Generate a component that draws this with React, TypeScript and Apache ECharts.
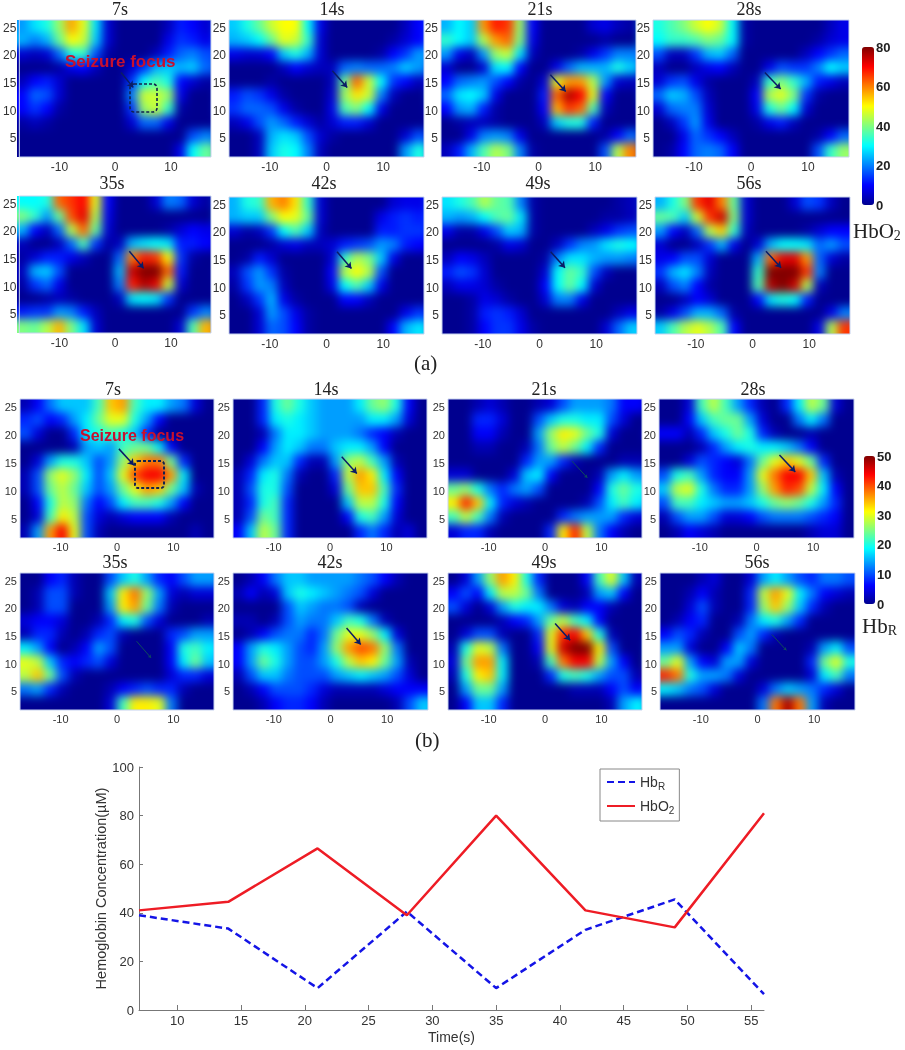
import React, { useEffect, useRef } from "react";
import * as echarts from "echarts";

const times = [7, 14, 21, 28, 35, 42, 49, 56];
const hbrLine = [39, 33.5, 9, 40.5, 9, 33, 45.5, 6.5];
const hbo2Line = [41, 44.5, 66.5, 39, 80, 41, 34, 81];
const panelTitles = ["7s", "14s", "21s", "28s", "35s", "42s", "49s", "56s"];
const xTickValues = [-10, 0, 10];
const yTickValues = [5, 10, 15, 20, 25];
const lineXTicks = [10, 15, 20, 25, 30, 35, 40, 45, 50, 55];

const o7 = [
  [22,28,32,42,57,48,28,6,0,0,0,0,4,12,10,6],
  [24,20,24,38,50,46,26,6,0,0,0,0,8,14,12,8],
  [6,4,6,18,32,34,16,2,0,0,0,4,12,18,20,16],
  [0,0,0,2,8,10,4,0,0,6,14,24,26,24,26,18],
  [4,10,12,6,0,0,0,0,0,14,30,36,32,10,6,2],
  [10,18,16,6,0,0,0,0,0,20,46,46,42,8,0,0],
  [10,14,10,2,0,0,0,0,0,14,42,46,34,2,0,0],
  [2,4,2,0,0,0,0,0,0,6,18,18,8,0,0,0],
  [0,0,0,0,0,0,0,0,0,0,0,0,0,0,16,20],
  [0,0,0,0,0,0,0,0,0,0,0,0,0,8,30,38],
];
const o14 = [
  [26,32,38,46,50,50,30,8,0,0,0,0,0,0,4,10],
  [24,26,30,38,48,46,34,6,0,0,0,0,0,2,6,10],
  [8,6,6,10,26,32,24,6,0,0,0,0,2,10,14,22],
  [0,0,0,0,4,10,6,4,4,18,20,18,18,20,26,22],
  [0,0,0,2,0,0,0,0,4,38,62,46,30,14,10,4],
  [12,16,14,8,2,0,0,0,6,42,52,46,20,4,0,0],
  [14,18,18,16,8,2,0,0,8,36,40,30,8,0,0,0],
  [4,8,16,22,18,12,6,2,6,12,12,6,0,0,0,0],
  [0,0,4,24,28,26,16,6,2,0,0,0,0,0,6,16],
  [0,0,4,26,32,30,20,4,0,0,0,0,0,0,22,32],
];
const o21 = [
  [24,30,26,58,68,66,42,10,0,0,0,0,6,8,4,2],
  [34,30,26,44,58,62,40,8,0,0,0,0,0,2,0,0],
  [22,8,4,22,42,46,28,4,0,0,0,2,8,14,20,20],
  [6,0,0,6,28,30,10,0,0,8,18,24,24,24,32,26],
  [10,18,20,22,16,10,2,0,6,48,58,58,44,22,6,4],
  [18,28,30,26,8,0,0,0,12,62,76,70,48,10,0,0],
  [10,22,24,12,2,0,0,0,10,56,66,62,36,4,0,0],
  [0,2,4,4,2,0,0,0,4,26,32,32,12,0,0,0],
  [0,0,8,20,22,20,8,0,0,0,0,0,0,2,10,18],
  [4,12,24,36,44,40,20,2,0,0,0,0,0,16,44,60],
];
const o28 = [
  [32,36,40,46,50,46,30,2,0,0,0,0,0,0,4,8],
  [30,34,34,36,40,38,30,2,0,0,0,0,0,2,6,8],
  [16,4,4,14,24,26,18,0,0,0,0,0,4,10,14,18],
  [4,0,0,4,8,10,4,0,0,8,16,14,14,20,30,26],
  [6,14,16,8,2,0,0,0,4,34,40,34,24,12,8,4],
  [18,26,24,16,4,0,0,0,10,44,48,40,14,2,0,0],
  [6,18,20,20,6,0,0,0,8,32,38,30,6,0,0,0],
  [0,4,14,22,8,0,0,0,2,8,12,4,0,0,0,0],
  [0,0,8,18,14,10,4,0,0,0,0,0,0,2,10,18],
  [0,2,10,18,20,18,10,0,0,0,0,0,0,16,34,42],
];
const o35 = [
  [30,30,32,62,66,70,48,10,0,0,0,6,20,18,6,2],
  [40,34,22,38,64,72,44,8,0,0,0,0,0,0,0,0],
  [24,10,4,18,44,62,38,6,0,0,0,0,2,6,10,8],
  [4,0,0,4,18,36,14,2,4,24,28,30,28,12,12,10],
  [2,6,12,12,8,4,0,0,18,60,68,66,50,14,2,0],
  [4,24,26,16,0,0,0,0,24,74,84,84,62,12,0,0],
  [2,14,18,8,0,0,0,0,20,68,76,72,46,6,0,0],
  [0,0,2,4,2,0,0,0,4,28,30,28,14,0,0,0],
  [12,14,14,22,20,12,4,0,0,0,0,0,0,0,14,20],
  [40,38,44,56,40,28,6,0,0,0,0,0,0,6,36,56],
];
const o42 = [
  [24,32,34,56,60,52,34,6,0,0,0,0,0,6,8,8],
  [24,26,26,40,50,48,38,6,0,0,0,0,8,12,14,12],
  [6,2,4,14,30,36,26,4,0,0,0,0,12,12,14,14],
  [0,0,0,2,6,8,4,4,6,12,14,16,22,20,12,10],
  [0,2,12,6,0,0,0,0,6,34,44,40,26,8,0,0],
  [4,16,22,14,2,0,0,0,10,44,50,44,16,0,0,0],
  [2,14,22,20,4,0,0,0,8,30,36,26,8,0,0,0],
  [0,4,14,24,8,2,0,0,0,10,10,4,0,0,0,0],
  [0,0,6,22,16,8,2,0,0,0,0,0,0,0,8,14],
  [0,0,6,18,16,10,2,0,0,0,0,0,0,10,24,28],
];
const o49 = [
  [28,32,36,44,38,36,20,2,0,0,0,0,0,0,2,4],
  [24,22,24,30,36,38,28,2,0,0,0,0,0,2,2,4],
  [8,2,2,8,16,26,24,2,0,0,0,0,4,8,14,16],
  [0,0,0,0,2,8,6,0,0,4,14,20,22,28,32,30],
  [4,10,8,4,0,0,0,0,2,20,28,28,24,22,22,20],
  [12,16,14,6,0,0,0,0,6,30,38,34,16,4,0,0],
  [4,8,8,6,2,0,0,0,10,30,38,30,6,0,0,0],
  [0,0,2,8,6,2,0,0,6,20,20,8,0,0,0,0],
  [0,0,2,12,14,12,6,0,0,0,0,0,0,0,4,8],
  [0,0,2,10,14,14,8,2,0,0,0,0,0,6,18,26],
];
const o56 = [
  [24,32,40,66,72,60,38,6,0,0,0,6,16,14,4,0],
  [38,36,26,46,66,74,40,6,0,0,0,0,0,0,0,0],
  [22,10,4,18,44,54,34,4,0,0,0,0,2,6,10,10],
  [6,0,0,4,14,24,8,0,6,24,30,30,28,18,22,16],
  [8,10,16,16,6,0,0,0,24,62,72,72,58,18,6,2],
  [14,24,28,20,4,0,0,0,34,80,86,84,66,20,0,0],
  [4,16,20,10,2,0,0,0,36,76,82,74,44,4,0,0],
  [0,0,4,10,6,0,0,0,10,28,32,30,12,0,0,0],
  [2,8,16,24,24,18,2,0,0,0,0,0,0,0,8,20],
  [26,36,44,48,44,36,10,0,0,0,0,0,0,8,44,66],
];
const r7 = [
  [2,6,12,16,16,16,22,34,36,22,18,18,14,12,4,0],
  [8,10,6,8,14,18,24,30,30,20,14,6,0,0,0,0],
  [10,4,0,0,8,18,20,22,20,16,8,0,0,0,0,0],
  [0,0,0,0,2,14,16,14,22,24,24,18,6,0,0,0],
  [0,4,14,20,20,16,10,14,26,34,38,38,24,8,0,0],
  [2,10,26,30,26,18,10,16,30,40,44,44,36,18,0,0],
  [2,10,24,28,24,16,10,14,24,30,36,34,24,16,2,0],
  [0,6,20,28,26,12,6,10,18,22,22,20,14,6,0,0],
  [0,4,22,32,28,10,4,2,4,6,6,6,2,0,0,0],
  [2,14,36,44,30,10,2,0,0,0,0,0,0,0,2,0],
];
const r14 = [
  [0,0,8,20,24,20,16,14,14,14,18,24,26,20,6,0],
  [0,0,8,18,20,18,16,14,14,14,14,18,18,14,4,0],
  [0,0,2,12,18,18,16,14,14,14,12,8,6,2,0,0],
  [0,0,6,14,18,16,12,12,16,18,18,14,6,0,0,0],
  [0,4,12,16,16,8,2,2,14,26,28,22,14,2,0,0],
  [2,8,18,20,12,2,0,0,8,28,36,32,18,6,0,0],
  [2,10,20,20,10,0,0,0,4,24,34,34,22,8,0,0],
  [2,8,20,22,8,0,0,0,0,16,28,28,20,6,0,0],
  [2,10,24,22,8,0,0,0,0,6,20,22,14,4,0,0],
  [6,16,28,24,8,0,0,0,0,0,8,12,8,2,4,0],
];
const r21 = [
  [0,0,2,4,2,0,0,2,4,10,14,14,14,12,6,6],
  [0,0,8,8,4,0,0,10,16,20,20,18,18,10,4,0],
  [0,0,6,6,2,0,0,14,26,32,30,24,20,4,0,0],
  [0,0,2,2,0,0,2,12,24,28,24,18,8,0,0,0],
  [0,0,0,0,0,0,8,14,14,8,2,0,0,0,2,2],
  [4,4,0,0,0,4,16,18,6,0,0,0,2,14,18,14],
  [24,26,20,12,8,12,14,10,0,0,0,0,6,20,24,20],
  [32,42,34,18,8,4,2,0,0,0,0,2,10,18,22,18],
  [22,28,22,12,2,0,0,0,0,8,12,14,14,14,8,4],
  [4,8,8,2,0,0,0,0,8,32,42,28,12,6,2,0],
];
const r28 = [
  [0,0,4,22,28,22,14,8,2,0,8,18,28,24,4,0],
  [0,0,6,16,22,24,24,14,4,0,0,12,18,12,0,0],
  [6,6,2,8,16,20,24,20,8,2,0,0,2,0,0,0],
  [0,0,0,2,8,14,18,20,18,18,16,12,6,0,0,0],
  [0,0,4,10,8,6,4,12,24,30,34,30,24,8,0,0],
  [10,20,22,14,8,6,6,14,30,38,44,44,34,16,2,0],
  [16,28,30,20,12,8,8,14,26,36,42,40,28,18,6,0],
  [10,22,22,18,16,14,14,16,20,24,26,24,20,14,8,0],
  [2,10,14,14,10,4,4,6,10,12,12,12,10,8,6,0],
  [0,2,6,4,2,0,0,0,0,0,0,0,2,4,4,0],
];
const r35 = [
  [0,0,6,8,2,0,0,10,16,20,14,8,6,10,14,14],
  [0,2,10,10,2,0,0,16,32,38,26,14,4,2,4,4],
  [0,2,10,10,0,0,0,14,32,36,24,12,2,0,0,0],
  [4,6,6,4,0,0,2,8,18,20,10,4,0,0,0,2],
  [2,8,8,2,0,2,8,10,2,0,0,0,8,10,14,14],
  [18,14,6,0,2,6,14,10,0,0,0,0,6,20,22,18],
  [30,28,16,8,6,8,10,4,0,0,0,0,6,18,24,16],
  [28,34,24,10,2,0,0,0,0,0,0,0,4,8,8,4],
  [12,14,8,2,0,0,0,2,6,8,10,8,8,2,0,0],
  [0,0,0,0,0,0,0,4,22,32,32,30,12,0,0,0],
];
const r42 = [
  [0,2,6,12,16,16,14,14,14,14,12,10,6,2,0,0],
  [2,6,2,4,16,20,18,16,14,12,10,4,0,0,0,0],
  [0,0,0,0,10,16,14,12,12,10,2,0,0,0,0,0],
  [2,2,0,2,10,14,12,12,16,22,20,12,2,0,0,0],
  [0,2,6,10,12,12,8,12,24,30,30,26,18,4,0,0],
  [6,14,20,18,14,10,8,14,26,36,40,38,26,12,0,0],
  [6,14,24,20,14,10,10,14,20,28,34,32,24,14,2,0],
  [2,10,16,16,12,10,10,10,14,16,18,16,14,10,4,0],
  [0,2,6,10,10,10,8,4,2,2,2,2,4,6,6,6],
  [0,0,2,6,8,8,6,2,0,0,0,0,0,2,10,16],
];
const r49 = [
  [0,4,14,26,36,32,20,8,0,0,0,6,22,30,16,2],
  [6,10,6,18,28,28,24,12,0,0,0,2,14,16,6,0],
  [10,4,0,4,14,20,18,18,12,4,2,6,6,2,0,0],
  [0,0,0,0,2,6,8,14,24,28,22,18,6,0,0,0],
  [0,4,10,10,2,0,0,8,30,42,44,34,20,2,0,0],
  [2,20,30,28,12,0,0,6,30,46,52,50,32,10,0,0],
  [4,24,36,36,18,0,0,2,22,38,44,44,28,14,6,0],
  [2,20,32,34,18,0,0,0,8,20,22,20,14,10,10,2],
  [0,14,24,24,14,0,0,0,0,0,2,2,2,6,10,6],
  [0,6,16,16,8,0,0,0,0,0,0,0,0,2,14,18],
];
const r56 = [
  [0,0,0,2,4,0,0,4,14,18,14,10,8,12,12,10],
  [0,0,2,6,2,0,0,8,28,36,30,18,12,6,4,2],
  [0,0,4,10,2,0,0,8,26,34,26,16,8,2,0,0],
  [0,2,6,8,0,0,2,12,18,20,14,8,0,0,0,0],
  [6,10,8,2,0,0,10,14,8,2,0,0,0,0,0,0],
  [14,14,4,0,0,6,16,12,0,0,0,0,2,14,18,10],
  [24,30,14,6,4,14,14,4,0,0,0,0,8,24,30,20],
  [42,38,20,14,14,12,4,0,0,0,0,0,4,18,22,12],
  [18,16,12,10,4,0,0,0,4,12,16,14,12,8,4,0],
  [0,0,0,0,0,0,0,0,12,38,48,38,14,2,0,0],
];

const heatGrids = [o7, o14, o21, o28, o35, o42, o49, o56, r7, r14, r21, r28, r35, r42, r49, r56];

// arrow start and end, in axis units, per panel
const arrows = [
  [1.04, 16.9, 3.24, 14.2], [1.03, 17.2, 3.65, 14.2], [2.08, 16.5, 4.8, 13.45], [2.43, 16.9, 5.2, 13.9],
  [2.54, 16.4, 5.1, 13.3], [1.85, 16.5, 4.4, 13.45], [1.96, 16.5, 4.5, 13.6], [2.37, 16.6, 5.04, 13.6],
  [0.34, 17.5, 3.0, 14.6], [2.08, 16.1, 4.75, 13.1], [4.8, 15.3, 7.5, 12.35], [4.05, 16.4, 6.84, 13.4],
  [3.47, 14.05, 6.03, 11.04], [2.83, 16.46, 5.33, 13.45], [1.79, 17.24, 4.46, 14.23], [2.54, 15.26, 5.1, 12.4],
];
const faintArrows = [10, 12, 15];

const panels = [
  [17, 20, 194, 137], [229, 20, 195, 137], [441, 20, 195, 137], [653, 20, 196, 137],
  [17, 196, 194, 137], [229, 197, 195, 137], [442, 197, 195, 137], [655, 197, 195, 137],
  [20, 399, 194, 139], [233, 399, 194, 139], [448, 399, 194, 139], [659, 399, 195, 139],
  [20, 573, 194, 137], [233, 573, 195, 137], [448, 573, 194, 137], [660, 573, 195, 137],
];
const titlePos = [
  [120, 10], [332, 10], [540, 10], [749, 10], [112, 184], [324, 184], [538, 184], [749, 184],
  [113, 390], [326, 390], [544, 390], [753, 390], [115, 563], [330, 563], [544, 563], [757, 563],
];

const JET = ["#00008f", "#0000ff", "#0080ff", "#00ffff", "#80ff80", "#ffff00", "#ff8000", "#ff0000", "#800000"];
const SERIF = "'Liberation Serif', serif";
const SANS = "'Liberation Sans', sans-serif";
const NC = 16;
const NR = 10;
const COLS = Array.from({ length: NC + 2 }, (_, i) => i);
const ROWS = Array.from({ length: NR + 2 }, (_, i) => i);
const clampIdx = (i: number, n: number) => Math.max(0, Math.min(n - 1, i));
// the blurred layer reaches past the page, so that its own edge never fades over a panel
const BLEED = 40;

function heatOption() {
  return {
    animation: false,
    backgroundColor: "#00008f",
    // each grid reaches one cell past its frame, so that the blur does not dim the frame's edge;
    // the page clips the layer back to the frames
    grid: panels.map(([l, t, w, h]) => {
      const cw = w / NC;
      const ch = h / NR;
      return { left: BLEED + l - cw, top: BLEED + t - ch, width: w + 2 * cw, height: h + 2 * ch, containLabel: false };
    }),
    xAxis: panels.map((_, i) => ({ type: "category", gridIndex: i, data: COLS, show: false })),
    yAxis: panels.map((_, i) => ({ type: "category", gridIndex: i, data: ROWS, show: false, inverse: true })),
    visualMap: [
      { show: false, min: 0, max: 80, seriesIndex: [0, 1, 2, 3, 4, 5, 6, 7], inRange: { color: JET } },
      { show: false, min: 0, max: 50, seriesIndex: [8, 9, 10, 11, 12, 13, 14, 15], inRange: { color: JET } },
    ],
    series: heatGrids.map((rows, i) => ({
      type: "heatmap",
      xAxisIndex: i,
      yAxisIndex: i,
      progressive: 0,
      data: ROWS.flatMap((j) => COLS.map((c) => [c, j, rows[clampIdx(j - 1, NR)][clampIdx(c - 1, NC)]])),
    })),
  };
}

function overlayOption() {
  const n = panels.length;
  const sub = { fontFamily: SERIF, fontSize: 14, padding: [8, 0, 0, 0], fill: "#222" };
  const big = { fontFamily: SERIF, fontSize: 21, fill: "#222" };
  const grids: any[] = panels.map(([l, t, w, h]) => ({
    show: true, left: l, top: t, width: w, height: h, borderColor: "#c6d2ee", borderWidth: 1, backgroundColor: "transparent",
  }));
  const xAxes: any[] = panels.map((_, i) => ({
    type: "value", gridIndex: i, min: -17.2, max: 17.2, splitLine: { show: false },
    axisLine: { show: false }, axisTick: { show: false },
    axisLabel: { customValues: xTickValues, color: "#333", fontFamily: SANS, fontSize: i < 8 ? 12 : 11, margin: i < 8 ? 4 : 3 },
  }));
  const yAxes: any[] = panels.map((_, i) => ({
    type: "value", gridIndex: i, min: 1.6, max: 26.4, splitLine: { show: false },
    axisLine: { show: false }, axisTick: { show: false },
    axisLabel: { customValues: yTickValues, color: "#333", fontFamily: SANS, fontSize: i < 8 ? 12 : 11, margin: 3 },
  }));
  // colour bar labels
  grids.push({ left: 862, top: 47, width: 12, height: 158 }, { left: 864, top: 456, width: 11, height: 148 });
  [[80, 20], [50, 10]].forEach(([mx, step], k) => {
    xAxes.push({ type: "value", gridIndex: n + k, show: false, min: 0, max: 1 });
    yAxes.push({
      type: "value", gridIndex: n + k, position: "right", min: 0, max: mx, interval: step, splitLine: { show: false },
      axisLine: { show: false }, axisTick: { show: false },
      axisLabel: { color: "#222", fontFamily: SANS, fontSize: 13, fontWeight: "bold", margin: 2 },
    });
  });
  // line chart
  const L = n + 2;
  grids.push({ left: 139, top: 767, width: 625, height: 243 });
  xAxes.push({
    type: "value", gridIndex: L, min: 7, max: 56, splitLine: { show: false },
    name: "Time(s)", nameLocation: "middle", nameGap: 20,
    nameTextStyle: { color: "#333", fontFamily: SANS, fontSize: 14 },
    axisLine: { lineStyle: { color: "#777" } },
    axisTick: { customValues: lineXTicks, inside: true, length: 5, lineStyle: { color: "#777" } },
    axisLabel: { customValues: lineXTicks, color: "#333", fontFamily: SANS, fontSize: 13, margin: 4 },
  });
  yAxes.push({
    type: "value", gridIndex: L, min: 0, max: 100, interval: 20, splitLine: { show: false },
    name: "Hemoglobin Concentration(µM)", nameLocation: "middle", nameGap: 31, nameRotate: 90, nameMoveOverlap: false,
    nameTextStyle: { color: "#333", fontFamily: SANS, fontSize: 14.5 },
    axisLine: { show: true, lineStyle: { color: "#777" } },
    axisTick: { show: true, inside: true, length: 4, lineStyle: { color: "#777" } },
    axisLabel: { color: "#333", fontFamily: SANS, fontSize: 13, margin: 5 },
  });

  const arrowSeries = arrows.map(([x1, y1, x2, y2], i) => {
    const faint = faintArrows.includes(i);
    return {
      type: "line", xAxisIndex: i, yAxisIndex: i, data: [], silent: true,
      markLine: {
        silent: true, animation: false, symbol: ["none", "arrow"], symbolSize: faint ? 3 : 6, label: { show: false },
        lineStyle: { color: faint ? "#0f4a5e" : "#0a1c66", width: faint ? 1 : 1.5, type: "solid" },
        data: [[{ coord: [x1, y1] }, { coord: [x2, y2] }]],
      },
    };
  });

  return {
    animation: false,
    backgroundColor: "transparent",
    title: panelTitles.concat(panelTitles).map((t, i) => ({
      text: t, left: titlePos[i][0], top: titlePos[i][1] - 10, textAlign: "center", padding: 0,
      textStyle: { fontFamily: SERIF, fontSize: 18, fontWeight: "normal", color: "#222" },
    })),
    grid: grids,
    xAxis: xAxes,
    yAxis: yAxes,
    visualMap: [
      { show: true, type: "continuous", left: 862, top: 47, itemWidth: 12, itemHeight: 158, padding: 0, min: 0, max: 80, seriesIndex: [], calculable: false, inRange: { color: JET } },
      { show: true, type: "continuous", left: 864, top: 456, itemWidth: 11, itemHeight: 148, padding: 0, min: 0, max: 50, seriesIndex: [], calculable: false, inRange: { color: JET } },
    ],
    legend: {
      left: 600, top: 769, orient: "vertical", padding: [6, 5, 6, 6], itemGap: 8, itemWidth: 28, itemHeight: 14,
      borderColor: "#888", borderWidth: 1, backgroundColor: "#fff",
      itemStyle: { opacity: 0 },
      data: ["HbR", "HbO2"],
      formatter: (name: string) => (name === "HbR" ? "{t|Hb}{s|R}" : "{t|HbO}{s|2}"),
      textStyle: {
        rich: {
          t: { fontFamily: SANS, fontSize: 14, color: "#333" },
          s: { fontFamily: SANS, fontSize: 10, color: "#333", padding: [8, 0, 0, 0] },
        },
      },
    },
    series: [
      ...arrowSeries,
      {
        name: "HbR", type: "line", xAxisIndex: L, yAxisIndex: L, symbol: "none",
        data: times.map((t, i) => [t, hbrLine[i]]),
        lineStyle: { color: "#1414e6", width: 2.5, type: [7, 4] }, itemStyle: { color: "#1414e6" },
      },
      {
        name: "HbO2", type: "line", xAxisIndex: L, yAxisIndex: L, symbol: "none",
        data: times.map((t, i) => [t, hbo2Line[i]]),
        lineStyle: { color: "#ee1c25", width: 2.5 }, itemStyle: { color: "#ee1c25" },
      },
    ],
    graphic: [
      { type: "rect", shape: { x: 130, y: 84, width: 27, height: 28, r: 4 }, style: { fill: "none", stroke: "#12224f", lineWidth: 1.6, lineDash: [3, 2] } },
      { type: "rect", shape: { x: 135, y: 461, width: 29, height: 27, r: 3 }, style: { fill: "none", stroke: "#12224f", lineWidth: 2, lineDash: [3, 2] } },
      { type: "text", x: 65, y: 53, style: { text: "Seizure focus", fill: "#c8102e", font: `bold 17px ${SANS}` } },
      { type: "text", x: 80, y: 427, style: { text: "Seizure focus", fill: "#c8102e", font: `bold 16px ${SANS}` } },
      { type: "text", x: 414, y: 352, style: { text: "(a)", fill: "#222", font: `21px ${SERIF}` } },
      { type: "text", x: 415, y: 729, style: { text: "(b)", fill: "#222", font: `21px ${SERIF}` } },
      { type: "text", x: 853, y: 220, style: { text: "{b|HbO}{s|2}", rich: { b: big, s: sub } } },
      { type: "text", x: 862, y: 615, style: { text: "{b|Hb}{s|R}", rich: { b: big, s: sub } } },
    ],
  };
}

export default function App() {
  const heatRef = useRef<HTMLDivElement>(null);
  const topRef = useRef<HTMLDivElement>(null);
  useEffect(() => {
    const heat = echarts.init(heatRef.current!, undefined, { renderer: "svg" });
    const top = echarts.init(topRef.current!, undefined, { renderer: "svg" });
    heat.setOption(heatOption());
    top.setOption(overlayOption());
    return () => {
      heat.dispose();
      top.dispose();
    };
  }, []);
  const clip = panels.map(([l, t, w, h]) => `M${l} ${t}H${l + w}V${t + h}H${l}Z`).join(" ");
  const layer: React.CSSProperties = { position: "absolute", left: 0, top: 0, width: 905, height: 1050 };
  return (
    <div style={{ position: "fixed", left: 0, top: 0, width: 905, height: 1050, background: "#fff", overflow: "hidden" }}>
      <div style={{ ...layer, clipPath: `path('${clip}')` }}>
        <div
          ref={heatRef}
          style={{ position: "absolute", left: -BLEED, top: -BLEED, width: 905 + 2 * BLEED, height: 1050 + 2 * BLEED, filter: "blur(5px)" }}
        />
      </div>
      <div ref={topRef} style={{ ...layer, filter: "blur(0.4px)" }} />
    </div>
  );
}
